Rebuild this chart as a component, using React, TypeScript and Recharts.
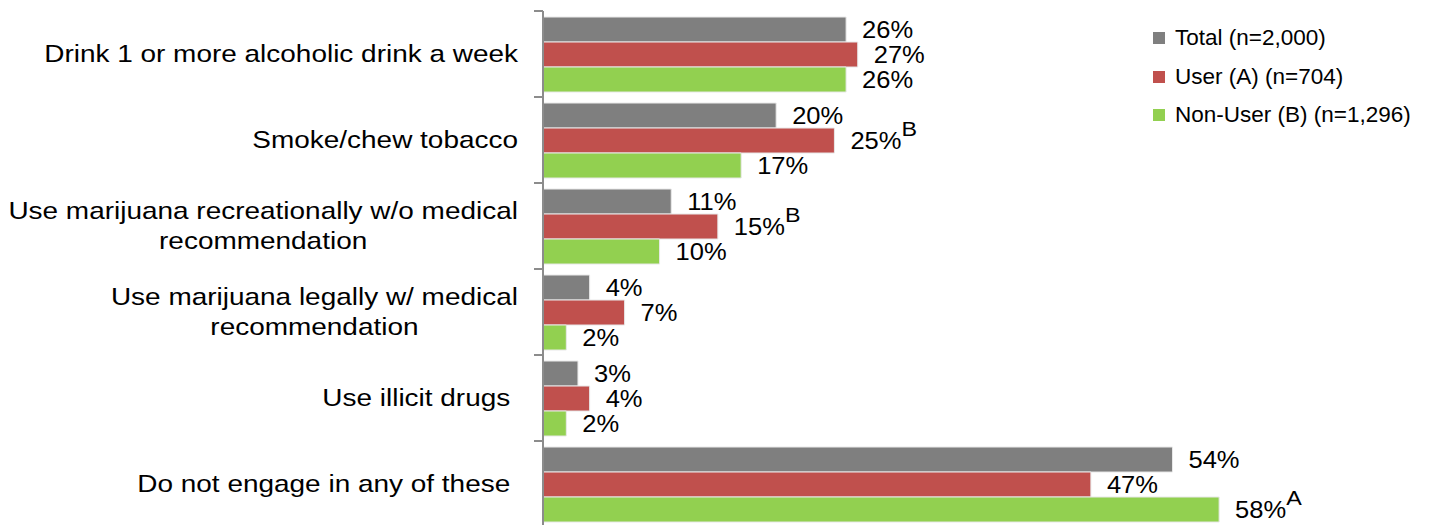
import React from 'react';
import { BarChart, Bar, XAxis, YAxis, LabelList } from 'recharts';

const categories = [
  'Drink 1 or more alcoholic drink a week',
  'Smoke/chew tobacco',
  'Use marijuana recreationally w/o medical\nrecommendation',
  'Use marijuana legally w/ medical\nrecommendation',
  'Use illicit drugs ',
  'Do not engage in any of these ',
];
const totalValues = [26, 20, 11, 4, 3, 54];
const userValues = [27, 25, 15, 7, 4, 47];
const nonUserValues = [26, 17, 10, 2, 2, 58];
const totalSig = ['', '', '', '', '', ''];
const userSig = ['', 'B', 'B', '', '', ''];
const nonUserSig = ['', '', '', '', '', 'A'];
const seriesNames = ['Total (n=2,000)', 'User (A) (n=704)', 'Non-User (B) (n=1,296)'];
const seriesKeys = ['total', 'user', 'nonUser'];
const seriesColors = ['#7F7F7F', '#C0504D', '#92D050'];

const data = categories.map((c, i) => ({
  category: c,
  total: totalValues[i],
  user: userValues[i],
  nonUser: nonUserValues[i],
}));

const FONT = '"Liberation Sans", Arial, sans-serif';
const W = 1436;
const H = 530;
const M = { top: 11, right: 77, bottom: 3, left: 0 };
const AXIS_W = 543;
const PLOT_H = H - M.top - M.bottom;
const BAND = PLOT_H / categories.length;
const AXIS_COLOR = '#8C8C8C';

const CAT_SIZE = 24;
const CAT_STRETCH = 1.165;
const LBL_SIZE = 23;
const LBL_STRETCH = 1.11;

let ctx: CanvasRenderingContext2D | null = null;
const measure = (s: string, size: number) => {
  if (!ctx) {
    ctx = document.createElement('canvas').getContext('2d');
  }
  if (!ctx) return s.length * size * 0.5;
  ctx.font = `${size}px "Liberation Sans", Arial, sans-serif`;
  return ctx.measureText(s).width;
};

const CategoryTick = (props: any) => {
  const { x, y, payload, index } = props;
  const lines = String(payload.value).split('\n');
  const lineH = 30;
  const maxW = Math.max(...lines.map((l) => measure(l, CAT_SIZE)));
  const multi = lines.length > 1;
  const tx1 = x + 16;
  const tx2 = x + 25;
  return (
    <g>
      <line x1={tx1} x2={tx2} y1={y - BAND / 2} y2={y - BAND / 2} stroke={AXIS_COLOR} strokeWidth={2} />
      {index === categories.length - 1 ? (
        <line x1={tx1} x2={tx2} y1={y + BAND / 2} y2={y + BAND / 2} stroke={AXIS_COLOR} strokeWidth={2} />
      ) : null}
      <text
        transform={`translate(${x},${y}) scale(${CAT_STRETCH},1)`}
        fontFamily={FONT}
        fontSize={CAT_SIZE}
        fill="#000"
        textAnchor={multi ? 'middle' : 'end'}
        dominantBaseline="central"
        style={{ whiteSpace: 'pre' }}
      >
        {lines.map((l, i) => (
          <tspan key={i} x={multi ? -maxW / 2 : 0} y={-((lines.length - 1) * lineH) / 2 + i * lineH}>
            {l}
          </tspan>
        ))}
      </text>
    </g>
  );
};

const makeLabel = (sig: string[]) => (props: any) => {
  const vb = props.viewBox || {};
  const x = props.x ?? vb.x;
  const y = props.y ?? vb.y;
  const width = props.width ?? vb.width;
  const height = props.height ?? vb.height;
  const { value, index } = props;
  const s = sig[index];
  return (
    <text
      transform={`translate(${x + width + 16},${y + height / 2}) scale(${LBL_STRETCH},1)`}
      x={0}
      y={0}
      dominantBaseline="central"
      fontFamily={FONT}
      fontSize={LBL_SIZE}
      fill="#000"
    >
      {`${value}%`}
      {s ? (
        <tspan fontSize={21} dy={-12}>
          {s}
        </tspan>
      ) : null}
    </text>
  );
};

const sigs = [totalSig, userSig, nonUserSig];

export default function App() {
  return (
    <div
      style={{
        position: 'absolute',
        left: 0,
        top: 0,
        width: W,
        height: 525,
        overflow: 'hidden',
        background: '#fff',
      }}
    >
      <BarChart
        width={W}
        height={H}
        data={data}
        layout="vertical"
        margin={M}
        barCategoryGap="7%"
        barGap={0}
      >
        <XAxis type="number" domain={[0, 70]} hide />
        <YAxis
          type="category"
          dataKey="category"
          width={AXIS_W}
          tickSize={8}
          tickMargin={17}
          tickLine={false}
          interval={0}
          axisLine={{ stroke: AXIS_COLOR, strokeWidth: 2 }}
          tick={(p: any) => <CategoryTick {...p} />}
        />
        {seriesKeys.map((k, i) => (
          <Bar
            key={k}
            dataKey={k}
            name={seriesNames[i]}
            fill={seriesColors[i]}
            stroke="#E8E8E8"
            strokeWidth={1}
            isAnimationActive={false}
          >
            <LabelList dataKey={k} content={makeLabel(sigs[i])} />
          </Bar>
        ))}
      </BarChart>
      <div
        style={{
          position: 'absolute',
          left: 1153,
          top: 19,
          fontFamily: FONT,
          fontSize: 22.5,
          color: '#000',
        }}
      >
        {seriesNames.map((n, i) => (
          <div key={n} style={{ display: 'flex', alignItems: 'center', height: 38.5, whiteSpace: 'nowrap' }}>
            <span
              style={{
                display: 'inline-block',
                width: 12,
                height: 12,
                background: seriesColors[i],
                marginRight: 10,
              }}
            />
            <span>{n}</span>
          </div>
        ))}
      </div>
    </div>
  );
}
